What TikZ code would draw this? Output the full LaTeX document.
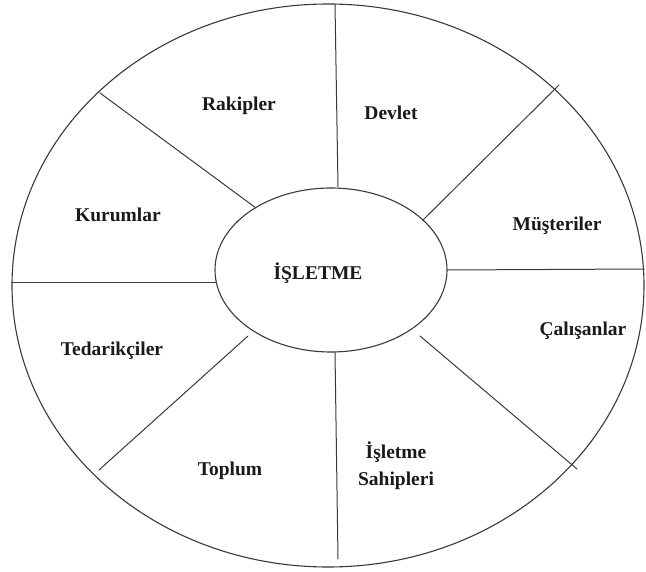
\documentclass[tikz,border=0pt]{standalone}
\usepackage{fontspec}
\setmainfont{Liberation Serif}
\usetikzlibrary{shapes.geometric}
\definecolor{wheelInk}{HTML}{1A1A1A}
\definecolor{wheelLine}{HTML}{3A3A3A}

\begin{document}
\begin{tikzpicture}[x=1pt,y=-1pt,line cap=round,line join=round]
\tikzset{rim/.style={draw=wheelLine,line width=1.1pt},spoke/.style={draw=wheelLine,line width=1pt},lbl/.style={text=wheelInk,font=\fontsize{19.5}{27}\selectfont\bfseries,align=center}}
\path[fill=white] (0,0) rectangle (646,572);
\draw[rim] (328,285.5) ellipse [x radius=316pt,y radius=281.5pt];
\node[rim,ellipse,minimum width=232pt,minimum height=164pt,inner sep=0pt] (isletme) at (331,270) {};
\node[lbl] (isletmeText) at (318,273) {İŞLETME};
% spokes
\coordinate (topO) at (335,4); \coordinate (botO) at (338,559);
\coordinate (leftO) at (12,283); \coordinate (rightO) at (644,269);
\coordinate (ulO) at (100,93); \coordinate (urO) at (559,85);
\coordinate (llO) at (99,470); \coordinate (lrO) at (577,469);
\draw[spoke] (topO) -- (338,187);
\draw[spoke] (335,352) -- (botO);
\draw[spoke] (leftO) -- (216.5,283);
\draw[spoke] (isletme.east) -- (rightO);
\draw[spoke] (ulO) -- (256,208);
\draw[spoke] (urO) -- (423,220);
\draw[spoke] (llO) -- (248,336);
\draw[spoke] (lrO) -- (420,336);
% labels
\node[lbl] (rakipler) at (239,106) {Rakipler};
\node[lbl] (devlet) at (391,113) {Devlet};
\node[lbl] (kurumlar) at (118,215) {Kurumlar};
\node[lbl] (musteriler) at (557,226) {Müşteriler};
\node[lbl] (tedarikciler) at (112,351) {Tedarikçiler};
\node[lbl] (calisanlar) at (583,331) {Çalışanlar};
\node[lbl] (toplum) at (230,471) {Toplum};
\node[lbl] (sahipleri) at (396,466) {İşletme\\Sahipleri};
\end{tikzpicture}
\end{document}
